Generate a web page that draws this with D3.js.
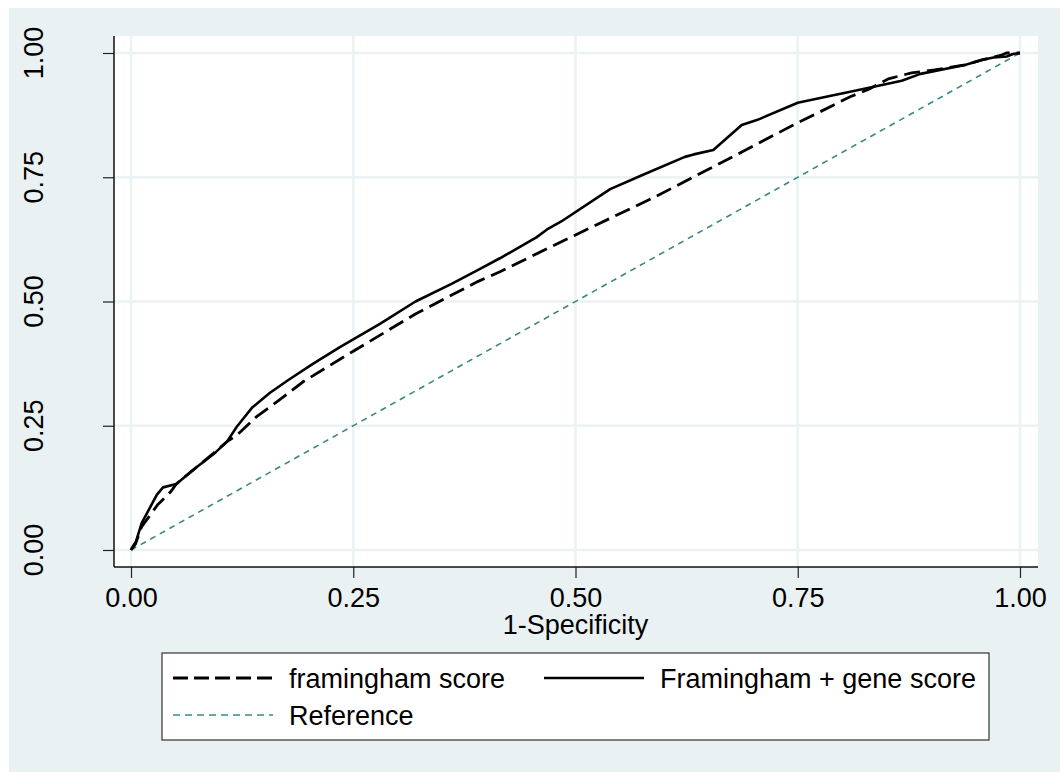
<!DOCTYPE html>
<html>
<head>
<meta charset="utf-8">
<script src="https://cdn.jsdelivr.net/npm/d3@7"></script>
<style>
  html, body { margin: 0; padding: 0; background: #ffffff; }
  svg { display: block; font-family: "Liberation Sans", Arial, sans-serif; }
</style>
</head>
<body>
<svg id="chart" width="1060" height="772"></svg>
<script>
// ---- Data ----
const framFpr = [0, 0.005, 0.012, 0.03, 0.045, 0.051, 0.074, 0.093, 0.108, 0.119, 0.141, 0.164, 0.194, 0.25, 0.32, 0.39, 0.415, 0.50, 0.59, 0.655, 0.745, 0.79, 0.809, 0.83, 0.852, 0.878, 0.904, 0.938, 0.957, 0.978, 0.985, 1.0];
const framTpr = [0, 0.012, 0.047, 0.091, 0.118, 0.133, 0.167, 0.195, 0.218, 0.231, 0.268, 0.298, 0.339, 0.40, 0.475, 0.54, 0.56, 0.634, 0.711, 0.771, 0.855, 0.895, 0.912, 0.927, 0.948, 0.960, 0.966, 0.976, 0.986, 0.995, 1.0, 1.0];

const geneFpr = [0, 0.001, 0.0056, 0.012, 0.029, 0.036, 0.051, 0.074, 0.093, 0.108, 0.119, 0.136, 0.156, 0.177, 0.205, 0.235, 0.28, 0.32, 0.36, 0.39, 0.415, 0.456, 0.468, 0.484, 0.539, 0.576, 0.623, 0.633, 0.655, 0.687, 0.704, 0.75, 0.79, 0.809, 0.867, 0.888, 0.938, 0.957, 0.970, 0.985, 0.992, 1.0];
const geneTpr = [0, 0.004, 0.017, 0.054, 0.111, 0.126, 0.133, 0.167, 0.193, 0.218, 0.248, 0.286, 0.316, 0.342, 0.375, 0.408, 0.455, 0.50, 0.535, 0.563, 0.587, 0.629, 0.645, 0.661, 0.726, 0.755, 0.791, 0.796, 0.805, 0.855, 0.865, 0.90, 0.915, 0.922, 0.944, 0.958, 0.976, 0.986, 0.991, 0.993, 0.998, 1.0];

const refX = [0, 1];
const refY = [0, 1];

const tickValues = [0, 0.25, 0.5, 0.75, 1];
const xTitle = "1-Specificity";
const legendLabels = ["framingham score", "Framingham + gene score", "Reference"];

// ---- Styles ----
const bgOuter = "#e9f1f3";
const gridColor = "#eaf2f3";
const refColor = "#3b8781";
const fontSize = 27;

const svg = d3.select("#chart");

// outer graph region
svg.append("rect").attr("x", 9).attr("y", 8).attr("width", 1051).attr("height", 764).attr("fill", bgOuter);

// plot region
const plot = { left: 114, right: 1038, top: 36, bottom: 567 };
svg.append("rect").attr("x", plot.left).attr("y", plot.top)
  .attr("width", plot.right - plot.left).attr("height", plot.bottom - plot.top)
  .attr("fill", "#ffffff");

const x = d3.scaleLinear().domain([0, 1]).range([131, 1020]);
const y = d3.scaleLinear().domain([0, 1]).range([550, 53]);

// gridlines
const grid = svg.append("g");
grid.selectAll("line.gx").data(tickValues).join("line")
  .attr("x1", d => x(d)).attr("x2", d => x(d))
  .attr("y1", plot.top).attr("y2", plot.bottom)
  .attr("stroke", gridColor).attr("stroke-width", 2.5);
grid.selectAll("line.gy").data(tickValues).join("line")
  .attr("class", "gy")
  .attr("y1", d => y(d)).attr("y2", d => y(d))
  .attr("x1", plot.left).attr("x2", plot.right)
  .attr("stroke", gridColor).attr("stroke-width", 2.5);

// x axis
const xAxis = d3.axisBottom(x).tickValues(tickValues).tickFormat(d3.format(".2f"))
  .tickSize(11).tickPadding(9.5);
const gx = svg.append("g").attr("transform", `translate(0,${plot.bottom})`).call(xAxis);
gx.select(".domain").remove();
gx.selectAll(".tick line").attr("stroke", "#222").attr("stroke-width", 1.2);
gx.selectAll(".tick text").attr("font-size", fontSize).attr("fill", "#000")
  .attr("font-family", "Liberation Sans, Arial, sans-serif");

// y axis
const yAxis = d3.axisLeft(y).tickValues(tickValues).tickFormat("").tickSize(11);
const gy = svg.append("g").attr("transform", `translate(${plot.left},0)`).call(yAxis);
gy.select(".domain").remove();
gy.selectAll(".tick line").attr("stroke", "#222").attr("stroke-width", 1.2);
svg.append("g").selectAll("text").data(tickValues).join("text")
  .attr("transform", d => `translate(43,${y(d)}) rotate(-90)`)
  .attr("text-anchor", "middle")
  .attr("font-size", fontSize).attr("fill", "#000")
  .text(d => d3.format(".2f")(d));

// axis lines
svg.append("line").attr("x1", plot.left).attr("x2", plot.left).attr("y1", plot.top).attr("y2", plot.bottom)
  .attr("stroke", "#111").attr("stroke-width", 1.5);
svg.append("line").attr("x1", plot.left).attr("x2", plot.right).attr("y1", plot.bottom).attr("y2", plot.bottom)
  .attr("stroke", "#111").attr("stroke-width", 1.5);

// x title
svg.append("text").attr("x", (x(0) + x(1)) / 2).attr("y", 634)
  .attr("text-anchor", "middle").attr("font-size", fontSize).attr("fill", "#000")
  .text(xTitle);

// lines
const line = d3.line().x(d => x(d[0])).y(d => y(d[1]));
const refData = refX.map((v, i) => [v, refY[i]]);
const framData = framFpr.map((v, i) => [v, framTpr[i]]);
const geneData = geneFpr.map((v, i) => [v, geneTpr[i]]);

svg.append("path").datum(refData).attr("d", line)
  .attr("fill", "none").attr("stroke", refColor).attr("stroke-width", 1.6)
  .attr("stroke-dasharray", "6,5");
svg.append("path").datum(geneData).attr("d", line)
  .attr("fill", "none").attr("stroke", "#000").attr("stroke-width", 2.6)
  .attr("stroke-linejoin", "round");
svg.append("path").datum(framData).attr("d", line)
  .attr("fill", "none").attr("stroke", "#000").attr("stroke-width", 2.8)
  .attr("stroke-dasharray", "16,7");

// legend
const lg = svg.append("g");
lg.append("rect").attr("x", 162).attr("y", 653).attr("width", 827).attr("height", 87)
  .attr("fill", "#fff").attr("stroke", "#333").attr("stroke-width", 1.2);
const legendItems = [
  { label: legendLabels[0], x: 173, y: 678, stroke: "#000", w: 2.8, dash: "15,6" },
  { label: legendLabels[1], x: 544, y: 678, stroke: "#000", w: 2.6, dash: null },
  { label: legendLabels[2], x: 173, y: 715, stroke: refColor, w: 1.4, dash: "7,5" }
];
legendItems.forEach(it => {
  lg.append("line").attr("x1", it.x).attr("x2", it.x + 100).attr("y1", it.y).attr("y2", it.y)
    .attr("stroke", it.stroke).attr("stroke-width", it.w)
    .attr("stroke-dasharray", it.dash);
  lg.append("text").attr("x", it.x + 116).attr("y", it.y + 10)
    .attr("font-size", fontSize).attr("fill", "#000").text(it.label);
});
</script>
</body>
</html>
